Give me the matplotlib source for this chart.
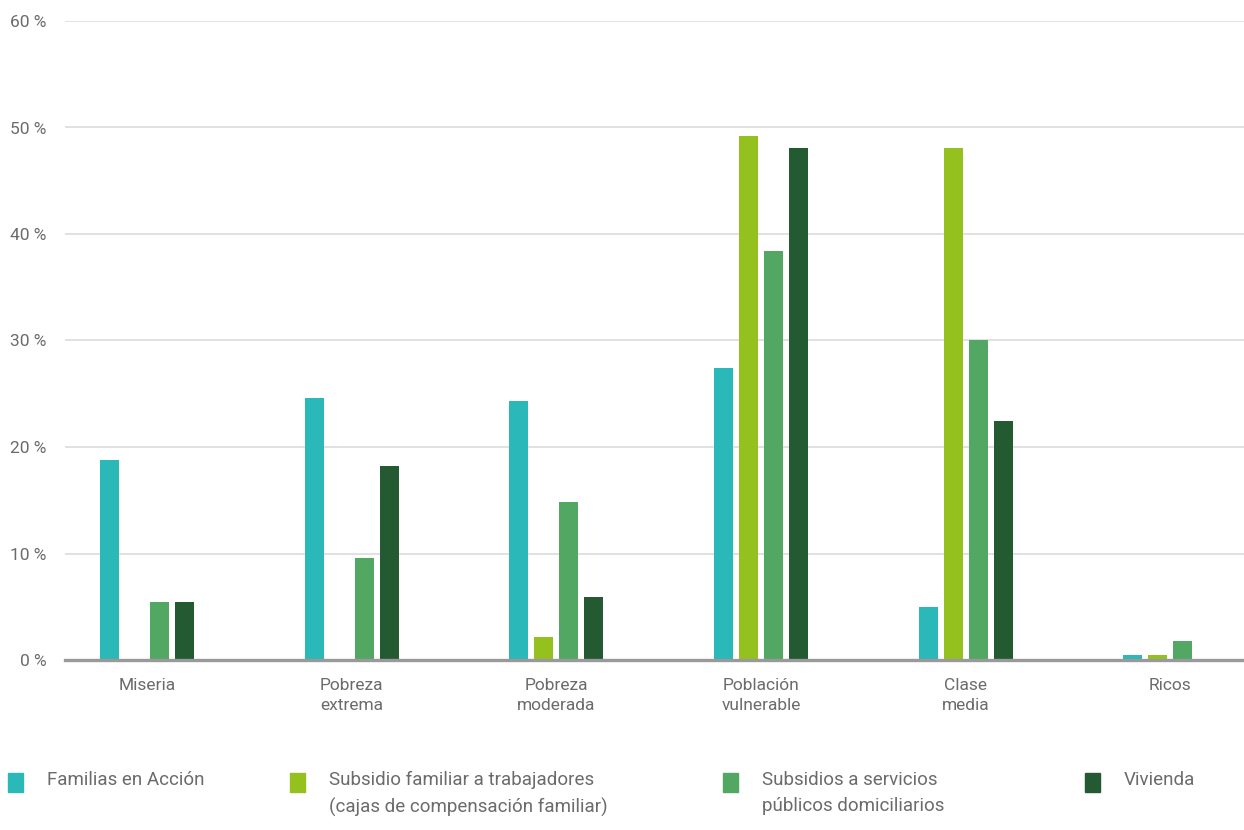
import matplotlib.pyplot as plt
import numpy as np
from matplotlib.patches import Rectangle

plt.rcParams["font.family"] = ["Roboto", "DejaVu Sans"]

categories = ["Miseria", "Pobreza\nextrema", "Pobreza\nmoderada",
              "Población\nvulnerable", "Clase\nmedia", "Ricos"]
series_names = [
    "Familias en Acción",
    "Subsidio familiar a trabajadores\n(cajas de compensación familiar)",
    "Subsidios a servicios\npúblicos domiciliarios",
    "Vivienda",
]
familias = [18.8, 24.6, 24.3, 27.4, 5.0, 0.5]
subsidio_familiar = [0.0, 0.0, 2.2, 49.2, 48.1, 0.5]
servicios_publicos = [5.4, 9.6, 14.8, 38.4, 30.0, 1.8]
vivienda = [5.4, 18.2, 5.9, 48.1, 22.4, 0.0]
y_ticks = [0, 10, 20, 30, 40, 50, 60]

colors = ["#2bb8b8", "#95c11f", "#52a862", "#245a32"]
text_color = "#6b6b6b"

fig = plt.figure(figsize=(12.44, 8.30), dpi=100)
ax = fig.add_axes([65 / 1244, 1 - 660 / 830, 1 - 65 / 1244, (660 - 21) / 830])

x = np.arange(len(categories))
bar_w = 0.093
step = 0.122
for i, values in enumerate([familias, subsidio_familiar, servicios_publicos, vivienda]):
    ax.bar(x + (i - 1.5) * step, values, width=bar_w, color=colors[i], zorder=3)

ax.set_xlim(-0.4, 5.36)
ax.set_ylim(0, 60)
ax.set_yticks(y_ticks)
ax.set_yticklabels([f"{t} %" for t in y_ticks])
ax.set_xticks(x)
ax.set_xticklabels(categories, linespacing=1.45)
ax.tick_params(axis="both", length=0, labelsize=12.5, colors=text_color)
ax.tick_params(axis="y", pad=13.5)
ax.tick_params(axis="x", pad=13)
for label in ax.get_yticklabels():
    label.set_horizontalalignment("right")

ax.grid(axis="y", color="#dcdcdc", linewidth=1.2, zorder=0)
ax.grid(axis="x", visible=False)
for side in ["top", "right", "left"]:
    ax.spines[side].set_visible(False)
ax.spines["bottom"].set_color("#999999")
ax.spines["bottom"].set_linewidth(2.4)
ax.spines["bottom"].set_zorder(4)

# legend laid out by hand, with uneven column spacing
legend_x = [8, 290, 723, 1085]
for name, color, lx in zip(series_names, colors, legend_x):
    fig.add_artist(Rectangle((lx / 1244, 1 - 792 / 830), 15 / 1244, 19 / 830,
                             transform=fig.transFigure, color=color))
    fig.text((lx + 39) / 1244, 1 - 771 / 830, name, fontsize=13.5,
             color=text_color, va="top", ha="left", linespacing=1.6)

fig.savefig("out.png", dpi=100, facecolor="white")
